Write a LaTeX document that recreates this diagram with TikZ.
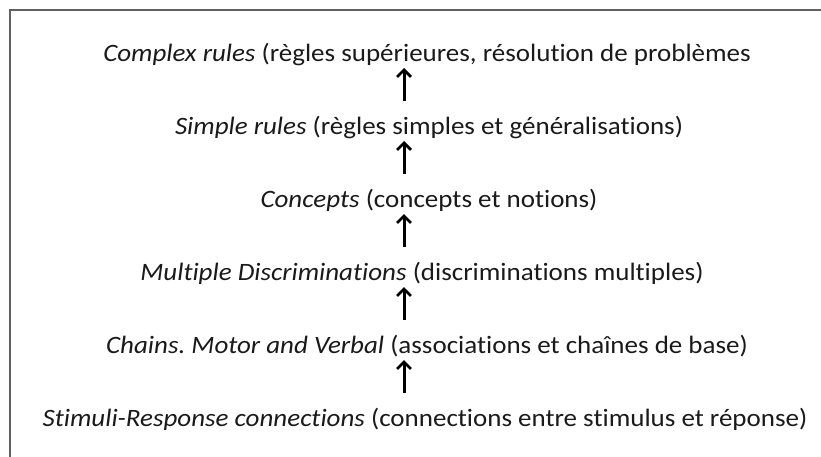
\documentclass[tikz,border=0pt]{standalone}
\usepackage{fontspec}
\setmainfont{Carlito}[Ligatures=NoCommon,FakeStretch=1.08]
\usetikzlibrary{arrows.meta,calc}
\definecolor{inkgray}{HTML}{1A1A1A}
\definecolor{framegray}{HTML}{606060}
\frenchspacing
\begin{document}
\begin{tikzpicture}[x=1pt,y=1pt,
  level/.style={anchor=base,inner sep=0pt,text=inkgray,
    font=\fontsize{25}{29}\selectfont},
  uparrow/.style={line width=3pt,black,
    -{Straight Barb[length=7pt,width=14pt,line width=2.8pt]}},
  frame/.style={draw=framegray,line width=1.6pt}]
\useasboundingbox (0,0) rectangle (821,-456);
\clip (0,0) rectangle (821,-456);
\fill[white] (0,0) rectangle (821,-456);
% outer frame (runs past the right and bottom edges)
\draw[frame] (10,-10) rectangle (880,-520);
% the six levels, from the top down
\node[level] (r1) at (427,-61)  {\textit{Complex rules} (règles supérieures, résolution de problèmes};
\node[level] (r2) at (429,-134) {\textit{Simple rules} (règles simples et généralisations)};
\node[level] (r3) at (429,-207) {\textit{Concepts} (concepts et notions)};
\node[level] (r4) at (422,-280) {\textit{Multiple Discriminations} (discriminations multiples)};
\node[level] (r5) at (427,-353) {\textit{Chains. Motor and Verbal} (associations et chaînes de base)};
\node[level] (r6) at (425,-426) {\textit{Stimuli-Response connections} (connections entre stimulus et réponse)};
% arrows pointing up from each level to the next
\coordinate (ax) at (404,0);
\foreach \lo/\hi in {r2/r1,r3/r2,r4/r3,r5/r4,r6/r5}
  \draw[uparrow] ($(\lo.base -| ax)+(0,33)$) -- ($(\hi.base -| ax)+(0,-7)$);
\end{tikzpicture}
\end{document}
